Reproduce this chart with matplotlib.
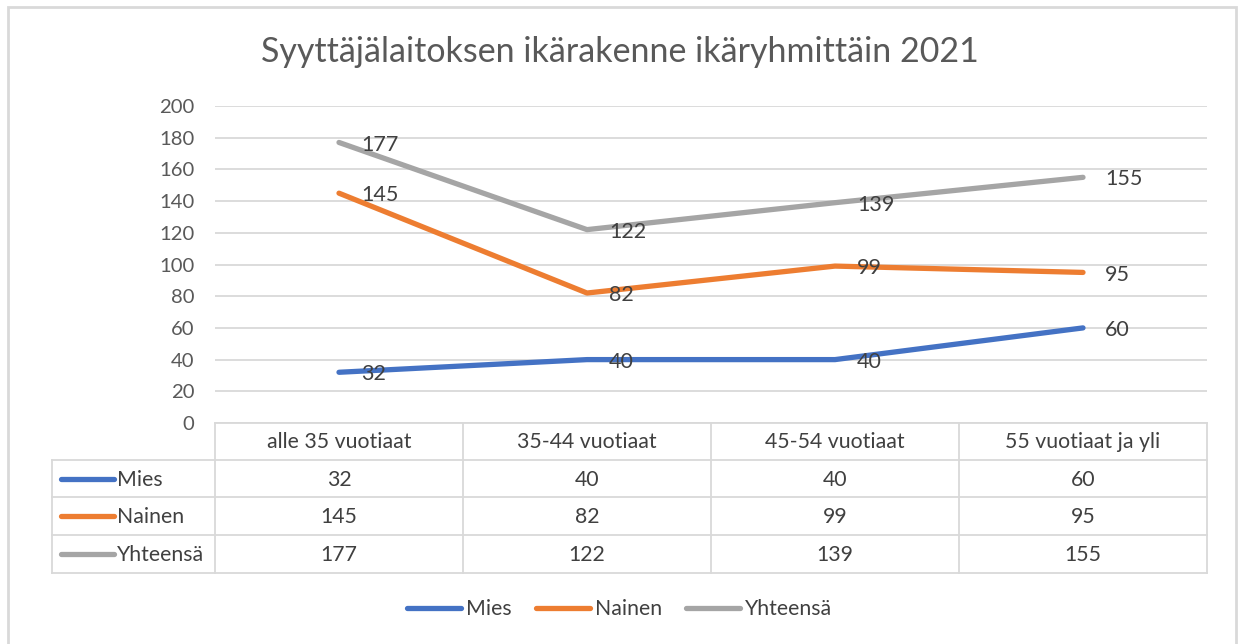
import matplotlib
matplotlib.use("Agg")
import matplotlib.pyplot as plt
from matplotlib.lines import Line2D
from matplotlib.patches import Rectangle

categories = ["alle 35 vuotiaat", "35-44 vuotiaat", "45-54 vuotiaat", "55 vuotiaat ja yli"]
series_names = ["Mies", "Nainen", "Yhteensä"]
mies = [32, 40, 40, 60]
nainen = [145, 82, 99, 95]
yhteensa = [177, 122, 139, 155]
yticks = [0, 20, 40, 60, 80, 100, 120, 140, 160, 180, 200]
title = "Syyttäjälaitoksen ikärakenne ikäryhmittäin 2021"

colors = ["#4472C4", "#ED7D31", "#A5A5A5"]
series = [mies, nainen, yhteensa]

plt.rcParams['font.family'] = ['Lato', 'DejaVu Sans']
W, H = 1239, 644
fig = plt.figure(figsize=(W / 100, H / 100), dpi=100)
fig.patch.set_facecolor("white")

# outer frame
fig.patches.append(Rectangle((8 / W, -0.01), (1236 - 8) / W, 1 - 7 / H + 0.01,
                             transform=fig.transFigure, fill=False,
                             edgecolor="#D9D9D9", linewidth=2))

x0, x1 = 215, 1207
y_top, y_bot = 106, 423
ax = fig.add_axes([x0 / W, 1 - y_bot / H, (x1 - x0) / W, (y_bot - y_top) / H])
ax.set_xlim(-0.5, len(categories) - 0.5)
ax.set_ylim(0, 200)
ax.set_yticks(yticks)
ax.set_xticks([])
for s in ax.spines.values():
    s.set_visible(False)
ax.tick_params(axis="y", length=0, pad=15, labelsize=14.6, labelcolor="#595959")
ax.grid(axis="y", color="#D9D9D9", linewidth=1.3)
ax.set_axisbelow(True)

xs = list(range(len(categories)))
for vals, c in zip(series, colors):
    ax.plot(xs, vals, color=c, linewidth=3.8, solid_capstyle="round", zorder=3)
    for xi, v in zip(xs, vals):
        ax.annotate(str(v), (xi, v), xytext=(16, -1.5), textcoords="offset points",
                    ha="left", va="center", fontsize=15.5, color="#404040", zorder=4)

fig.text(0.5, 1 - 52 / H, title, ha="center", va="center", fontsize=24.5, color="#595959")

# data table below axes
px = lambda x: x / W
py = lambda y: 1 - y / H
grid_c = "#D9D9D9"
lw = 1.3
col_edges = [215 + i * 248 for i in range(5)]
row_edges = [423, 460, 497, 535, 573]
fig.add_artist(Line2D([px(215), px(1207)], [py(423), py(423)], color=grid_c, lw=lw))
for y in row_edges[1:]:
    fig.add_artist(Line2D([px(52), px(1207)], [py(y), py(y)], color=grid_c, lw=lw))
for x in col_edges:
    fig.add_artist(Line2D([px(x), px(x)], [py(423), py(573)], color=grid_c, lw=lw))
fig.add_artist(Line2D([px(52), px(52)], [py(460), py(573)], color=grid_c, lw=lw))

tfs = 15.3
for i, cat in enumerate(categories):
    cx = (col_edges[i] + col_edges[i + 1]) / 2
    fig.text(px(cx), py(442.5), cat, ha="center", va="center", fontsize=tfs, color="#404040")
for r, (name, vals, c) in enumerate(zip(series_names, series, colors)):
    cy = (row_edges[r + 1] + row_edges[r + 2]) / 2
    fig.add_artist(Line2D([px(61), px(114)], [py(cy), py(cy)], color=c, lw=3.8,
                          solid_capstyle="round"))
    fig.text(px(117), py(cy + 1), name, ha="left", va="center", fontsize=tfs, color="#404040")
    for i, v in enumerate(vals):
        cx = (col_edges[i] + col_edges[i + 1]) / 2
        fig.text(px(cx), py(cy + 1), str(v), ha="center", va="center", fontsize=tfs, color="#404040")

# bottom legend
handles = [Line2D([0], [0], color=c, lw=3.8, solid_capstyle="round") for c in colors]
leg = fig.legend(handles, series_names, loc="center", bbox_to_anchor=(0.5, py(609)),
                 ncol=3, frameon=False, fontsize=15.3, handlelength=2.55, handletextpad=0.23,
                 columnspacing=1.15)
for t in leg.get_texts():
    t.set_color("#404040")

fig.savefig("out.png", dpi=100, facecolor="white")
